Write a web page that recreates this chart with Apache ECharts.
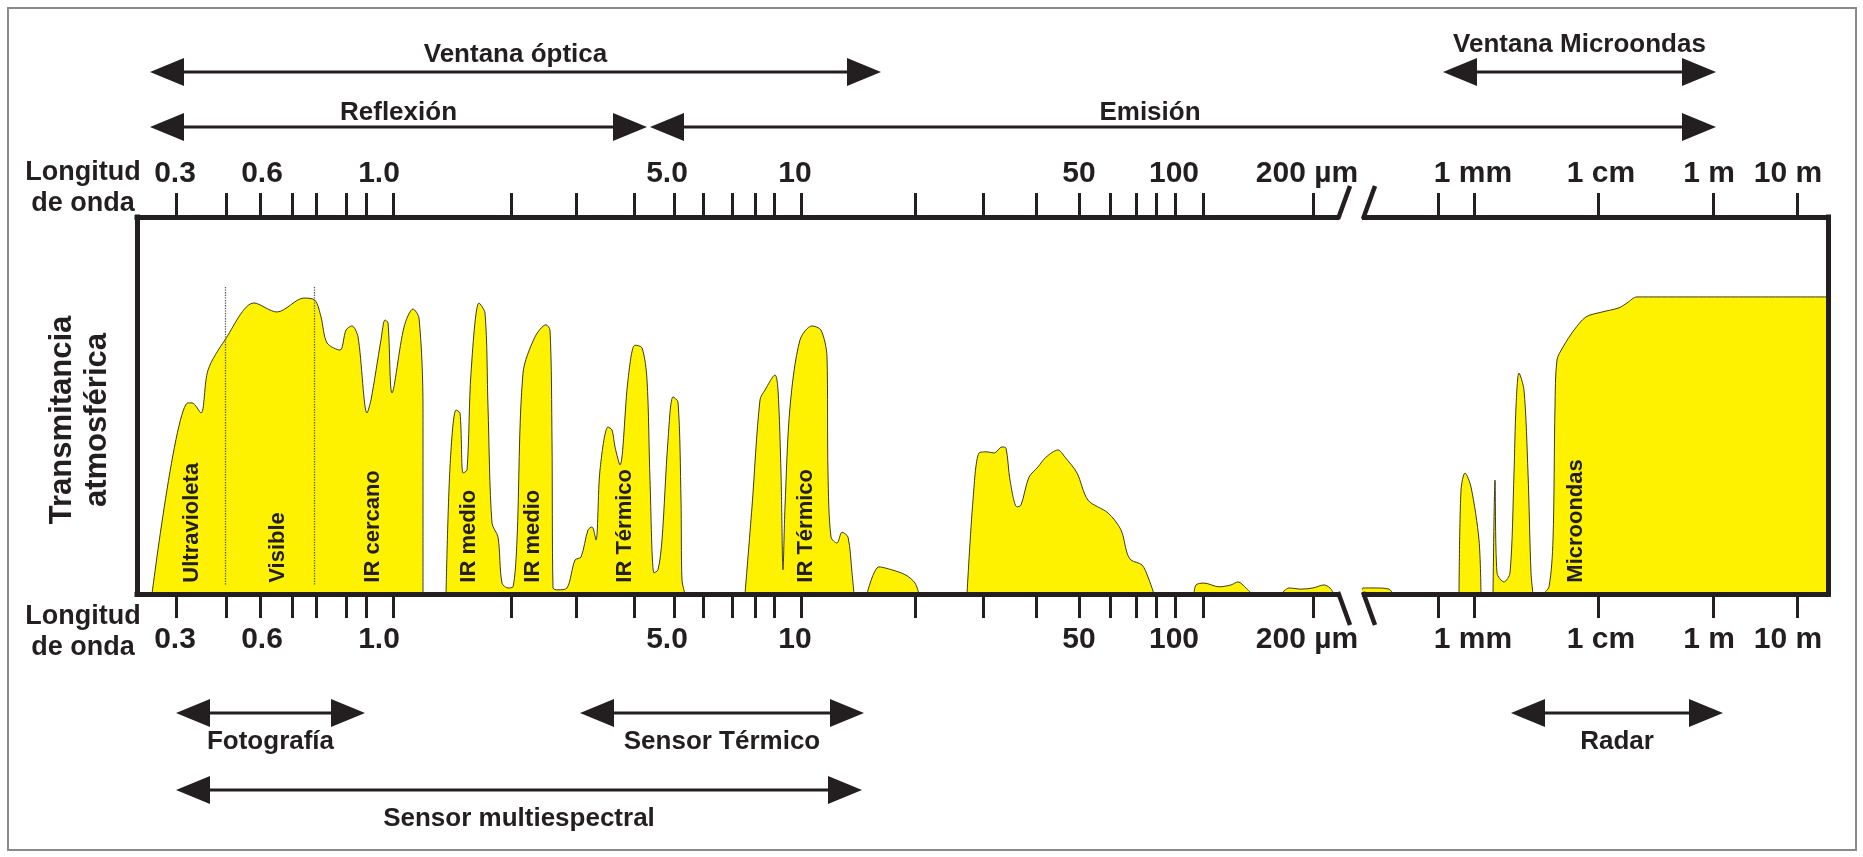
<!DOCTYPE html>
<html>
<head>
<meta charset="utf-8">
<title>Transmitancia atmosférica</title>
<script src="https://cdn.jsdelivr.net/npm/echarts@6/dist/echarts.min.js"></script>
<style>
  html, body { margin: 0; padding: 0; background: #fff; }
  #chart { width: 1863px; height: 857px; }
</style>
</head>
<body>
<div id="chart"></div>
<script>
// eje x: posición sobre la escala del diagrama (no lineal), eje y: transmitancia en %
var tickPos = [39, 89, 123, 155, 179, 209, 229, 256, 374, 439, 497, 537, 566, 595, 618, 637, 664,
  778, 846, 899, 942, 973, 999, 1019, 1038, 1066, 1176, 1301, 1337, 1461, 1576, 1660];
var labelPos = [38, 125, 242, 530, 658, 942, 1037, 1170, 1336, 1464, 1572, 1651];
var labelText = ['0.3', '0.6', '1.0', '5.0', '10', '50', '100', '200 µm', '1 mm', '1 cm', '1 m', '10 m'];
var axisBreak = [1201, 1226];

// ventanas atmosféricas [posición, transmitancia]
var ventanaOptica = [[15, 0], [51, 50.7], [55, 50.7], [64, 48], [71, 59.4], [88, 67.4], [117, 77.2],
  [140, 74.8], [167, 78.5], [178, 77.9], [184, 73.5], [190, 66.6], [203, 64.7], [209, 70], [215, 71.1],
  [221, 68.2], [230, 48], [234, 51.5], [244, 67.4], [248, 72.7], [251, 71.9], [255, 53.3], [267, 70.8],
  [276, 75.6], [282, 73.2], [286, 49.3], [286, 0]];
var ventanaIRMedio = [[309, 0], [313, 33.7], [319, 48.8], [323, 48], [326, 32.1], [330, 32.9], [334, 58.6],
  [342, 77.2], [348, 74.5], [351, 49.6], [355, 18.8], [361, 15.1], [365, 2.9], [371, 1.6], [376, 1.9],
  [380, 14.3], [386, 58.6], [398, 68.2], [409, 71.4], [413, 70], [415, 40.8], [416, 1.6], [421, 1.1],
  [430, 1.6], [438, 9], [444, 9.8], [451, 17], [455, 17.8], [459, 14.3], [463, 32.9], [471, 44.3],
  [475, 43.5], [478, 39], [483, 34.2], [491, 56.8], [498, 66], [505, 65.3], [510, 56.8], [513, 30.2],
  [517, 5.6], [521, 6.4], [525, 14.3], [531, 40.8], [536, 52.3], [541, 50.9], [544, 24.9], [545, 3.7], [548, 0]];
var ventanaTermica = [[608, 0], [615, 23.1], [623, 51.5], [628, 54.1], [638, 58.1], [641, 54.1], [644, 32.1],
  [646, 6.4], [648, 23.1], [653, 49.6], [663, 67.4], [675, 71.1], [684, 70], [690, 62.9], [691, 32.1],
  [694, 15.1], [700, 13.5], [705, 16.4], [711, 15.1], [715, 5.6], [717, 0]];
var banda16 = [[730, 0], [742, 7.2], [755, 6.4], [769, 5], [778, 2.9], [782, 0]];
var ventanaLejano = [[830, 0], [836, 24.9], [842, 37.4], [850, 37.7], [857, 37.4], [865, 39], [869, 38.7],
  [873, 30.2], [880, 23.1], [884, 23.6], [892, 31], [901, 33.7], [909, 36.3], [921, 38.2], [928, 36.3],
  [940, 32.1], [951, 24.9], [971, 21.5], [984, 17], [990, 10.9], [994, 9], [1005, 7.7], [1011, 4.5], [1017, 0]];
var bandaA = [[1057, 0], [1059, 2.4], [1067, 2.9], [1082, 1.9], [1094, 2.4], [1101, 3.2], [1109, 1.6], [1115, 0]];
var bandaB = [[1144, 0], [1152, 1.6], [1164, 1.3], [1176, 1.6], [1187, 2.4], [1193, 1.6], [1197, 0]];
var bandaC = [[1224, 0], [1226, 1.6], [1238, 1.6], [1252, 1.3], [1256, 0]];
var bandaMm1 = [[1322, 0], [1324, 27.6], [1328, 32.1], [1334, 28.4], [1342, 14.3], [1344, 0]];
var bandaMm2 = [[1356, 0], [1358, 30.2], [1360, 5.6], [1367, 3.2], [1373, 5.6], [1377, 32.1], [1379, 49.6],
  [1382, 58.6], [1387, 54.1], [1391, 32.1], [1394, 5.6], [1396, 0]];
var ventanaMicroondas = [[1406, 0], [1412, 1.9], [1416, 14.3], [1418, 49.6], [1420, 62.1], [1426, 65.5],
  [1437, 70], [1449, 73.5], [1465, 74.8], [1482, 75.9], [1490, 77.2], [1500, 78.8], [1691, 78.8]];

var visibleBounds = [88, 177];
var bandLabels = ['Ultravioleta', 'Visible', 'IR cercano', 'IR medio', 'IR medio', 'IR Térmico', 'IR Térmico', 'Microondas'];
var bandLabelPos = [55, 141, 236, 332, 396, 488, 669, 1439];

// rangos [texto, desde, hasta]
var arrowsTop1 = [['Ventana óptica', 13, 744], ['Ventana Microondas', 1306, 1579]];
var arrowsTop2 = [['Reflexión', 13, 510], ['Emisión', 513, 1579]];
var arrowsBottom1 = [['Fotografía', 39, 228], ['Sensor Térmico', 443, 727], ['Radar', 1374, 1586]];
var arrowsBottom2 = [['Sensor multiespectral', 39, 725]];

var ink = '#231f20';
var yellow = '#fff200';
var font = '"Liberation Sans", Arial, sans-serif';

var chart = echarts.init(document.getElementById('chart'), null, { renderer: 'canvas' });

function windowSeries(data) {
  return {
    type: 'line', data: data, smooth: 0.3, symbol: 'none', silent: true, z: 2,
    lineStyle: { color: '#3d3a1c', width: 1 },
    areaStyle: { color: yellow, opacity: 1 }
  };
}

function xAxisOf(position, margin) {
  return {
    type: 'value', position: position, min: 0, max: 1691, z: 5,
    axisLine: { show: true, onZero: false, lineStyle: { color: ink, width: 5, cap: 'square' } },
    axisTick: { show: true, customValues: tickPos, length: 24, lineStyle: { color: ink, width: 3 } },
    axisLabel: {
      customValues: labelPos, margin: margin, color: ink, fontSize: 30, fontWeight: 'bold', fontFamily: font,
      formatter: function (v) { var i = labelPos.indexOf(v); return i < 0 ? '' : labelText[i]; }
    },
    splitLine: { show: false }
  };
}

function yAxisOf(position) {
  return {
    type: 'value', position: position, min: 0, max: 100, z: 5,
    axisLine: { show: true, onZero: false, lineStyle: { color: ink, width: 5, cap: 'square' } },
    axisTick: { show: false }, axisLabel: { show: false }, splitLine: { show: false }
  };
}

var series = [ventanaOptica, ventanaIRMedio, ventanaTermica, banda16, ventanaLejano, bandaA, bandaB, bandaC,
  bandaMm1, bandaMm2, ventanaMicroondas].map(windowSeries);
series[0].markLine = {
  silent: true, symbol: ['none', 'none'], label: { show: false },
  lineStyle: { type: 'dotted', color: '#555', width: 1.3 },
  data: visibleBounds.map(function (u) { return [{ coord: [u, 2.5] }, { coord: [u, 81.5] }]; })
};

chart.setOption({
  animation: false,
  backgroundColor: '#fff',
  textStyle: { fontFamily: font },
  grid: { left: 137, right: 35, top: 217, bottom: 263 },
  xAxis: [xAxisOf('bottom', 31), xAxisOf('top', 28)],
  yAxis: [yAxisOf('left'), yAxisOf('right')],
  series: series
});

// --- anotaciones ---
function pt(u, t) { return chart.convertToPixel({ gridIndex: 0 }, [u, t]); }
var boxTop = pt(0, 100)[1], boxBottom = pt(0, 0)[1];
var els = [];

function text(str, x, y, size, extra) {
  var el = {
    type: 'text', x: x, y: y, z: 50,
    style: { text: str, fill: ink, font: 'bold ' + size + 'px ' + font, align: 'center', verticalAlign: 'middle' }
  };
  if (extra) for (var k in extra) el[k] = extra[k];
  return el;
}

// marco exterior
els.push({ type: 'rect', z: 1, shape: { x: 8, y: 8, width: 1848, height: 842 },
  style: { fill: 'none', stroke: '#8a8a8a', lineWidth: 2 } });

// corte del eje
var b0 = pt(axisBreak[0], 0)[0], b1 = pt(axisBreak[1], 0)[0];
[boxTop, boxBottom].forEach(function (y) {
  var dir = y === boxTop ? -1 : 1;
  els.push({ type: 'rect', z: 60, shape: { x: b0 + 1, y: y - 5, width: b1 - b0 - 2, height: 10 }, style: { fill: '#fff' } });
  [b0, b1].forEach(function (x) {
    els.push({ type: 'line', z: 61, shape: { x1: x, y1: y - dir * 2, x2: x + 12, y2: y + dir * 31 },
      style: { stroke: ink, lineWidth: 4.5 } });
  });
});

// flechas de rangos
var rows = [
  { items: arrowsTop1, y: 72, labelDy: -17 },
  { items: arrowsTop2, y: 127, labelDy: -14 },
  { items: arrowsBottom1, y: 713, labelDy: 29 },
  { items: arrowsBottom2, y: 790, labelDy: 29 }
];
var labelNudge = { 'Ventana Microondas': [0, -10], 'Emisión': [-33, 0] };
var headLen = 34, headHalf = 14;
rows.forEach(function (row) {
  row.items.forEach(function (a) {
    var x1 = pt(a[1], 0)[0], x2 = pt(a[2], 0)[0], y = row.y;
    els.push({ type: 'line', z: 50, shape: { x1: x1 + 10, y1: y, x2: x2 - 10, y2: y }, style: { stroke: ink, lineWidth: 3.2 } });
    els.push({ type: 'polygon', z: 50, shape: { points: [[x1, y], [x1 + headLen, y - headHalf], [x1 + headLen, y + headHalf]] }, style: { fill: ink } });
    els.push({ type: 'polygon', z: 50, shape: { points: [[x2, y], [x2 - headLen, y - headHalf], [x2 - headLen, y + headHalf]] }, style: { fill: ink } });
    var n = labelNudge[a[0]] || [0, 0];
    els.push(text(a[0], (x1 + x2) / 2 + n[0], y + row.labelDy + n[1], 26));
  });
});

// etiquetas de bandas (verticales)
bandLabels.forEach(function (s, i) {
  var p = pt(bandLabelPos[i], 3);
  var el = text(s, p[0], p[1], 22, { rotation: Math.PI / 2 });
  el.style.align = 'left';
  els.push(el);
});

// "Longitud de onda" arriba y abajo
[[83, 188], [83, 632]].forEach(function (p) {
  var el = text('Longitud\nde onda', p[0], p[1], 27);
  el.style.lineHeight = 31;
  els.push(el);
});

// título del eje y
var yt = text('Transmitancia\natmosférica', 80, 420, 31, { rotation: Math.PI / 2 });
yt.style.lineHeight = 35;
els.push(yt);

chart.setOption({ graphic: { elements: els } });
</script>
</body>
</html>
